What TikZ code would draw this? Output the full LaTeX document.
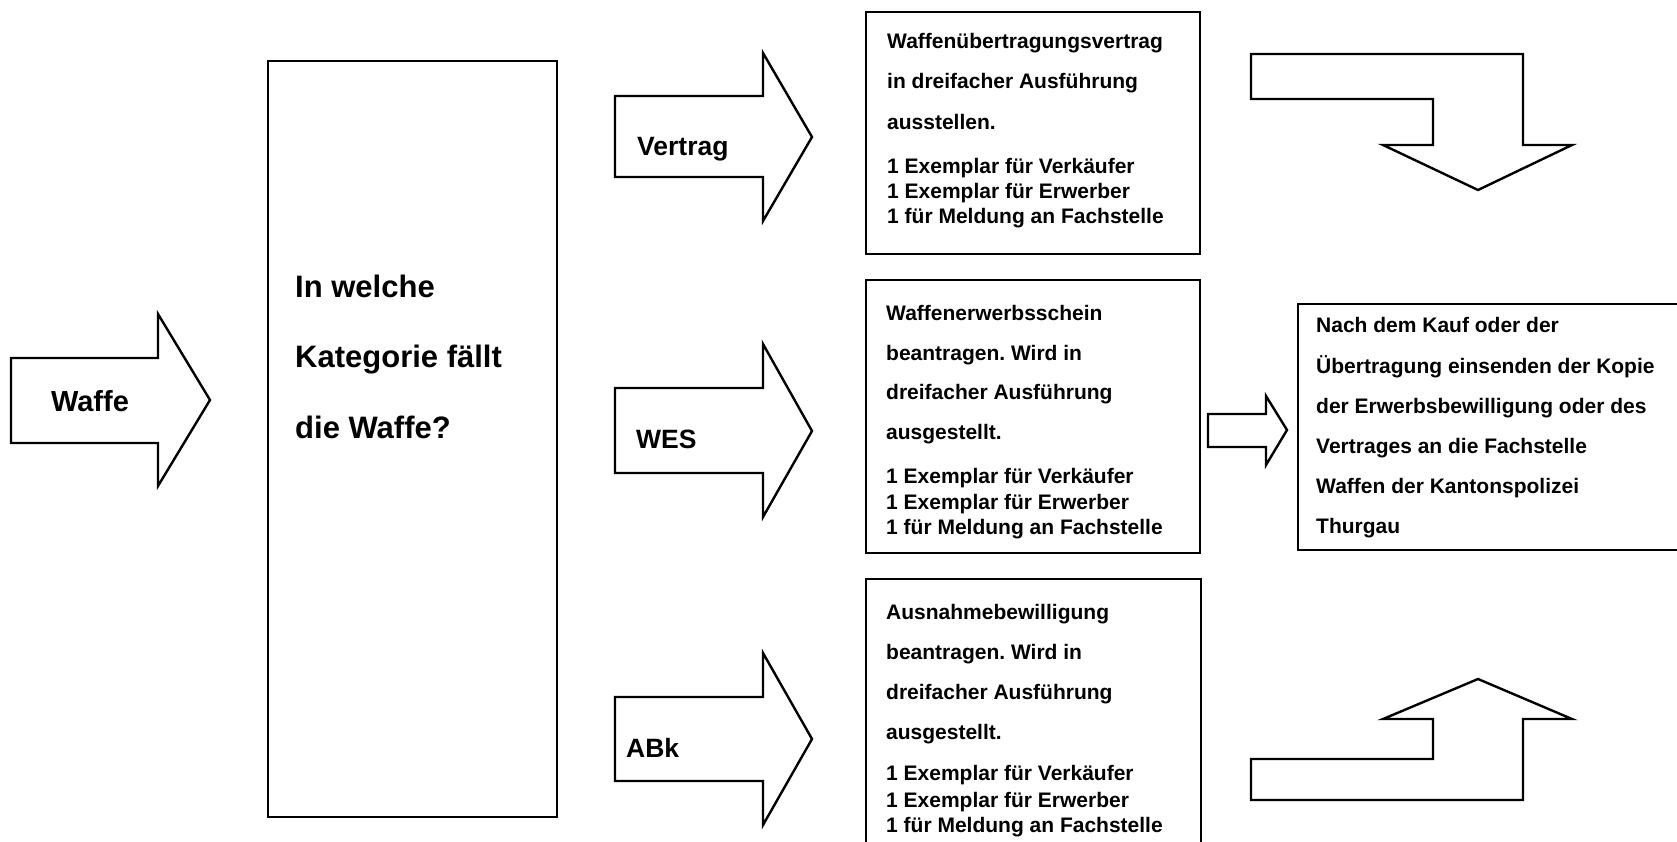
\documentclass[tikz,border=0pt]{standalone}
\usepackage{fontspec}
\setmainfont{Liberation Sans}
\frenchspacing
\newcommand\ftsm{\fontsize{21}{25}\selectfont\bfseries}
\newcommand\ftbig{\fontsize{31}{36}\selectfont\bfseries}
\newcommand\ftwaffe{\fontsize{29}{34}\selectfont\bfseries}
\newcommand\ftlab{\fontsize{26.5}{32}\selectfont\bfseries}
\tikzset{
  blockarrow/.style={draw=black, line width=2.4pt, fill=white, line join=miter, miter limit=10},
  boxs/.style={draw=black, line width=2.4pt, fill=white, inner sep=0pt, anchor=north west},
  txt/.style={anchor=base west, inner sep=0pt, font=\ftsm},
  bigtxt/.style={anchor=base west, inner sep=0pt, font=\ftbig},
  labtxt/.style={anchor=base west, inner sep=0pt, font=\ftlab},
}
\begin{document}
\begin{tikzpicture}[x=1pt,y=-1pt]
\useasboundingbox (0,0) rectangle (1677,842);
\clip (0,0) rectangle (1677,842);
\fill[white] (0,0) rectangle (1677,842);

% Waffe arrow
\draw[blockarrow] (11,358) -- (158,358) -- (158,314) -- (210,400) -- (158,486) -- (158,443) -- (11,443) -- cycle;
\node[anchor=base, inner sep=0pt, font=\ftwaffe] (waffe) at (90,411) {Waffe};

% big box
\node[boxs, minimum width=289pt, minimum height=756pt] (cat) at (267,60) {};
\node[bigtxt] (cat1) at (295,297) {In welche};
\node[bigtxt] (cat2) at (295,367) {Kategorie fällt};
\node[bigtxt] (cat3) at (295,438) {die Waffe?};

% category arrows
\draw[blockarrow] (615,96) -- (763,96) -- (763,53) -- (812,137) -- (763,221) -- (763,177) -- (615,177) -- cycle;
\node[labtxt] (vertrag) at (637,156) {Vertrag};
\draw[blockarrow] (615,388) -- (763,388) -- (763,344) -- (812,431) -- (763,517) -- (763,473) -- (615,473) -- cycle;
\node[labtxt] (wes) at (636,448) {WES};
\draw[blockarrow] (615,697) -- (763,697) -- (763,653) -- (812,739) -- (763,825) -- (763,781) -- (615,781) -- cycle;
\node[labtxt] (abk) at (626,757) {ABk};

% box 1
\node[boxs, minimum width=334pt, minimum height=242pt] (box1) at (865,11) {};
\foreach \t/\y [count=\i] in {Waffenübertragungsvertrag/49, in dreifacher Ausführung/89, ausstellen./130, 1 Exemplar für Verkäufer/174, 1 Exemplar für Erwerber/199, 1 für Meldung an Fachstelle/224}
  \node[txt] (ba\i) at (887,\y) {\t};

% box 2
\node[boxs, minimum width=334pt, minimum height=273pt] (box2) at (865,279) {};
\foreach \t/\y [count=\i] in {Waffenerwerbsschein/320, beantragen. Wird in/360, dreifacher Ausführung/399, ausgestellt./439, 1 Exemplar für Verkäufer/483, 1 Exemplar für Erwerber/509, 1 für Meldung an Fachstelle/534}
  \node[txt] (bb\i) at (886,\y) {\t};

% box 3
\node[boxs, minimum width=335pt, minimum height=290pt] (box3) at (865,578) {};
\foreach \t/\y [count=\i] in {Ausnahmebewilligung/619, beantragen. Wird in/659, dreifacher Ausführung/699, ausgestellt./739, 1 Exemplar für Verkäufer/780, 1 Exemplar für Erwerber/807, 1 für Meldung an Fachstelle/832}
  \node[txt] (bc\i) at (886,\y) {\t};

% bent arrow top
\draw[blockarrow] (1251,54) -- (1523,54) -- (1523,145) -- (1572,145) -- (1478,190) -- (1383,145) -- (1433,145) -- (1433,99) -- (1251,99) -- cycle;
% small arrow
\draw[blockarrow] (1208,414) -- (1266,414) -- (1266,396) -- (1287,430) -- (1266,465) -- (1266,447) -- (1208,447) -- cycle;
% bent arrow bottom
\draw[blockarrow] (1251,800) -- (1251,759) -- (1433,759) -- (1433,719) -- (1383,719) -- (1478,679) -- (1572,719) -- (1523,719) -- (1523,800) -- cycle;

% box 4
\node[boxs, minimum width=420pt, minimum height=246pt] (box4) at (1297,303) {};
\foreach \t/\y [count=\i] in {Nach dem Kauf oder der/332, Übertragung einsenden der Kopie/373, der Erwerbsbewilligung oder des/413, Vertrages an die Fachstelle/453, Waffen der Kantonspolizei/493, Thurgau/533}
  \node[txt] (bd\i) at (1316,\y) {\t};
\end{tikzpicture}
\end{document}
